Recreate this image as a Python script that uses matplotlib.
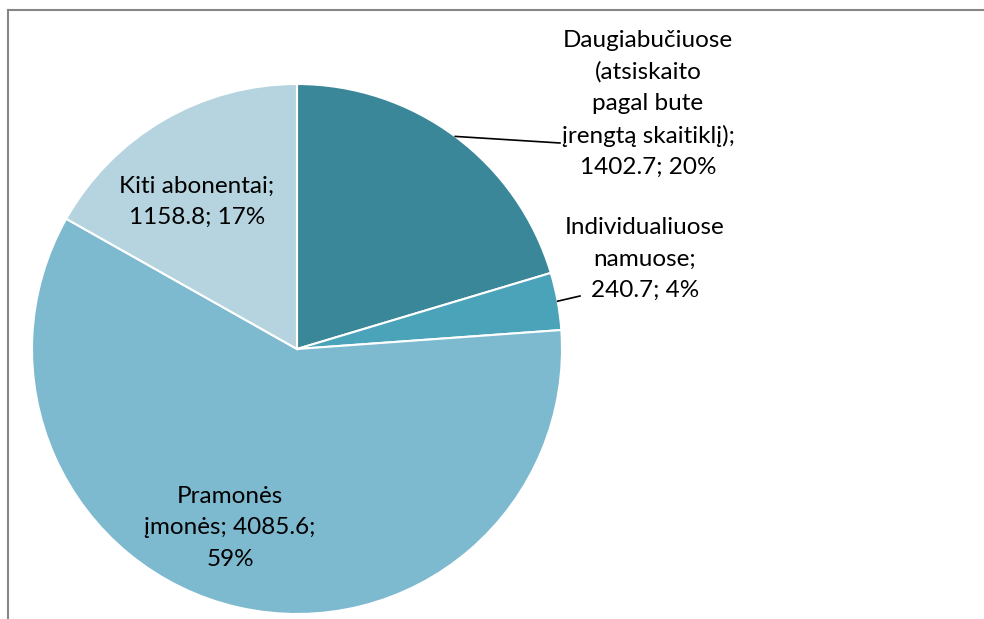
import matplotlib.pyplot as plt
import numpy as np

plt.rcParams['font.family'] = ['Lato', 'DejaVu Sans']

names = ["Daugiabučiuose\n(atsiskaito\npagal bute\nįrengtą skaitiklį)",
         "Individualiuose\nnamuose",
         "Pramonės\nįmonės",
         "Kiti abonentai"]
values = [1402.7, 240.7, 4085.6, 1158.8]
pct = [20, 4, 59, 17]
colors = ["#3a8799", "#4aa3b8", "#7db9cf", "#b5d4df"]

W, H = 984, 619
cx, cy, R = 297, 349, 265

fig = plt.figure(figsize=(W / 100, H / 100), dpi=100)
ax = fig.add_axes([(cx - R) / W, (H - cy - R) / H, 2 * R / W, 2 * R / H])

wedges, _ = ax.pie(values, colors=colors, startangle=90, counterclock=False,
                   radius=1, wedgeprops=dict(edgecolor='white', linewidth=1.5))
ax.set_xlim(-1, 1)
ax.set_ylim(-1, 1)
ax.axis('off')

labels = [f"{n};\n{v}; {p}%" for n, v, p in zip(names, values, pct)]
labels[2] = f"Pramonės\nįmonės; {values[2]};\n{pct[2]}%"


def px(x, y):
    return (x - cx) / R, (cy - y) / R


# label positions in pixels (centre of text block)
pos = [(648, 104), (645, 259), (230, 528), (197, 202)]
txt_kw = dict(ha='center', va='center', fontsize=17.5, linespacing=1.6, color='black')
for lab, (x, y) in zip(labels, pos):
    tx, ty = px(x, y)
    ax.text(tx, ty, lab, clip_on=False, **txt_kw)

# leader lines from slice edge
for i, end in [(0, (560, 143)), (1, (580, 296))]:
    w = wedges[i]
    ang = np.deg2rad((w.theta1 + w.theta2) / 2)
    sx, sy = np.cos(ang), np.sin(ang)
    ex, ey = px(*end)
    ax.plot([sx, ex], [sy, ey], color='black', lw=1.2, clip_on=False)

# chart area frame (left and top edges visible)
fig.add_artist(plt.Line2D([8 / W, 8 / W], [0, 1 - 10 / H], color='#868686', lw=1.5))
fig.add_artist(plt.Line2D([8 / W, 1], [1 - 10 / H, 1 - 10 / H], color='#868686', lw=1.5))

fig.savefig('out.png', dpi=100)
